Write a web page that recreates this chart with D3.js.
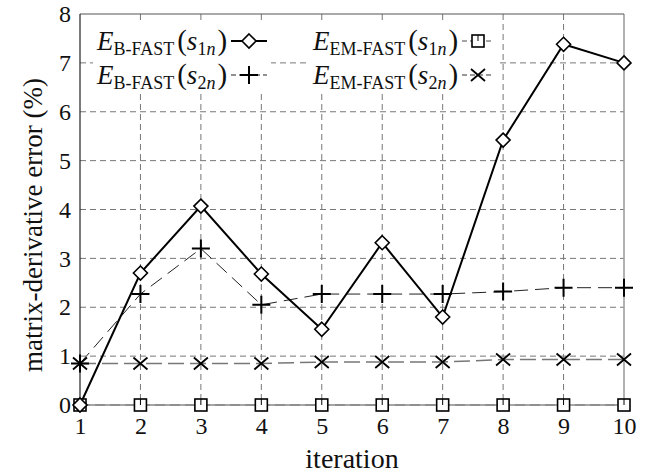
<!DOCTYPE html>
<html><head><meta charset="utf-8">
<script src="https://cdn.jsdelivr.net/npm/d3@7"></script>
<style>body{margin:0;background:#fff}svg text{font-family:"Liberation Serif","Times New Roman",Tinos,"DejaVu Serif",serif !important}</style>
</head><body><svg id="c" width="648" height="474"></svg>
<script>
const iterations = [1,2,3,4,5,6,7,8,9,10];
const bfastS1 = [0,2.7,4.07,2.68,1.55,3.32,1.8,5.42,7.38,7.0];
const bfastS2 = [0.85,2.27,3.2,2.05,2.27,2.27,2.27,2.32,2.4,2.4];
const emfastS1 = [0,0,0,0,0,0,0,0,0,0];
const emfastS2 = [0.85,0.85,0.85,0.85,0.88,0.88,0.88,0.93,0.93,0.93];
const yTicks = [0,1,2,3,4,5,6,7,8];

const svg = d3.select("#c");
const L=80,R=624,T=14,B=405;
const x = d3.scaleLinear().domain([1,10]).range([L,R]);
const y = d3.scaleLinear().domain([0,8]).range([B,T]);

// grid
const g = svg.append("g");
g.selectAll("line.h").data(yTicks.slice(1,-1)).join("line")
 .attr("x1",L).attr("x2",R).attr("y1",d=>y(d)).attr("y2",d=>y(d))
 .attr("stroke","#777").attr("stroke-dasharray","6,4").attr("stroke-width",1);
g.selectAll("line.v").data(iterations.slice(1,-1)).join("line")
 .attr("y1",T).attr("y2",B).attr("x1",d=>x(d)).attr("x2",d=>x(d))
 .attr("stroke","#777").attr("stroke-dasharray","6,4").attr("stroke-width",1);

// legend backgrounds
svg.append("rect").attr("x",93).attr("y",22).attr("width",178).attr("height",70).attr("fill","#fff");
svg.append("rect").attr("x",307).attr("y",22).attr("width",190).attr("height",70).attr("fill","#fff");

// frame
svg.append("line").attr("x1",L).attr("x2",R).attr("y1",B).attr("y2",B).attr("stroke","#888").attr("stroke-width",1.5);
svg.append("line").attr("x1",R).attr("x2",R).attr("y1",T).attr("y2",B).attr("stroke","#999").attr("stroke-width",1.5);
svg.append("line").attr("x1",L).attr("x2",R).attr("y1",T).attr("y2",T).attr("stroke","#555").attr("stroke-width",1.2);
svg.append("line").attr("x1",L).attr("x2",L).attr("y1",T).attr("y2",B).attr("stroke","#222").attr("stroke-width",1.2);

// axes labels via d3 axes
const ya = svg.append("g").attr("transform",`translate(${L},0)`).call(d3.axisLeft(y).tickValues(yTicks).tickSize(0).tickPadding(9).tickFormat(d3.format("d")));
ya.select(".domain").remove();
ya.selectAll("text").attr("font-size",24).attr("fill","#111");
const xa = svg.append("g").attr("transform",`translate(0,${B})`).call(d3.axisBottom(x).tickValues(iterations).tickSize(0).tickPadding(12).tickFormat(d3.format("d")));
xa.select(".domain").remove();
xa.selectAll("text").attr("font-size",24).attr("fill","#111");

svg.append("text").attr("x",(L+R)/2).attr("y",468).attr("text-anchor","middle").attr("font-size",28).attr("fill","#111").text("iteration");
svg.append("text").attr("transform","translate(42,225) rotate(-90)").attr("text-anchor","middle").attr("font-size",27).attr("fill","#111").text("matrix-derivative error (%)");

// series
const series = [
 {name:"B-FAST", sub:"1", vals:bfastS1, stroke:"#000", width:2, dash:null, marker:"diamond"},
 {name:"B-FAST", sub:"2", vals:bfastS2, stroke:"#222", width:1, dash:"14,7", marker:"plus"},
 {name:"EM-FAST", sub:"1", vals:emfastS1, stroke:"#888", width:1.5, dash:"10,5", marker:"square"},
 {name:"EM-FAST", sub:"2", vals:emfastS2, stroke:"#777", width:1.5, dash:"16,6", marker:"cross"}
];
const line = d3.line().x((d,i)=>x(iterations[i])).y(d=>y(d));
function drawMarker(sel, type, cx, cy){
  const m = sel.append("g").attr("transform",`translate(${cx},${cy})`);
  if(type==="diamond"){
    m.append("path").attr("d","M0,-7L7,0L0,7L-7,0Z").attr("fill","#fff").attr("stroke","#000").attr("stroke-width",1.6);
  } else if(type==="plus"){
    m.append("path").attr("d","M-9,0H9M0,-9V9").attr("stroke","#000").attr("stroke-width",2);
  } else if(type==="square"){
    m.append("rect").attr("x",-6).attr("y",-6).attr("width",12).attr("height",12).attr("fill","#fff").attr("stroke","#000").attr("stroke-width",1.6);
    m.append("path").attr("d","M0,-6V0").attr("stroke","#000").attr("stroke-width",1);
  } else if(type==="cross"){
    m.append("path").attr("d","M-7,-6L7,6M-7,6L7,-6").attr("stroke","#000").attr("stroke-width",1.8);
  }
}
[2,3,1,0].forEach(k=>{
  const s=series[k];
  svg.append("path").datum(s.vals).attr("d",line).attr("fill","none")
   .attr("stroke",s.stroke).attr("stroke-width",s.width).attr("stroke-dasharray",s.dash);
});
[2,3,1,0].forEach(k=>{
  const s=series[k];
  const gm = svg.append("g");
  s.vals.forEach((v,i)=>drawMarker(gm,s.marker,x(iterations[i]),y(v)));
});

// legend
const leg = [
 {s:series[0], tx:97, ty:50, lx1:231, lx2:267, mx:249},
 {s:series[1], tx:97, ty:84, lx1:231, lx2:267, mx:249},
 {s:series[2], tx:313, ty:50, lx1:462, lx2:494, mx:478},
 {s:series[3], tx:313, ty:84, lx1:462, lx2:494, mx:478}
];
leg.forEach(e=>{
  const t = svg.append("text").attr("x",e.tx).attr("y",e.ty).attr("font-size",27).attr("fill","#111");
  t.append("tspan").attr("font-style","italic").text("E");
  t.append("tspan").attr("font-size",18).attr("dy",5).text(e.s.name);
  t.append("tspan").attr("dy",-5).attr("dx",3).attr("font-size",29).text("(");
  t.append("tspan").attr("font-style","italic").text("s");
  t.append("tspan").attr("font-size",18).attr("dy",5).text(e.s.sub);
  t.append("tspan").attr("font-size",18).attr("font-style","italic").text("n");
  t.append("tspan").attr("dy",-5).attr("dx",2).attr("font-size",29).text(")");
  const ly = e.ty-9;
  svg.append("line").attr("x1",e.lx1).attr("x2",e.lx2).attr("y1",ly).attr("y2",ly)
   .attr("stroke",e.s.stroke).attr("stroke-width",e.s.width).attr("stroke-dasharray",e.s.dash?"5,3":null);
  drawMarker(svg,e.s.marker,e.mx,ly);
});
</script></body></html>
